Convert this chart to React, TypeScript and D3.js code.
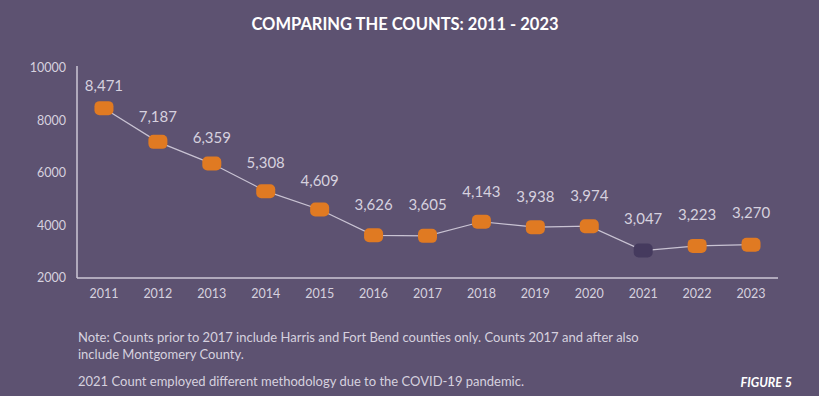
import * as d3 from "d3";
import { useEffect, useRef } from "react";

const years = ["2011", "2012", "2013", "2014", "2015", "2016", "2017", "2018", "2019", "2020", "2021", "2022", "2023"];
const counts = [8471, 7187, 6359, 5308, 4609, 3626, 3605, 4143, 3938, 3974, 3047, 3223, 3270];
const yTicks = [2000, 4000, 6000, 8000, 10000];
const specialYear = "2021";

const title = "COMPARING THE COUNTS: 2011 - 2023";
const noteLines = [
  "Note: Counts prior to 2017 include Harris and Fort Bend counties only. Counts 2017 and after also",
  "include Montgomery County.",
];
const methodNote = "2021 Count employed different methodology due to the COVID-19 pandemic.";
const figureLabel = "FIGURE 5";

export default function App() {
  const svgRef = useRef<SVGSVGElement>(null);

  useEffect(() => {
    if (!svgRef.current) return;
    document.body.style.margin = "0";

    const W = 819;
    const H = 396;
    const svg = d3.select(svgRef.current);
    svg.selectAll("*").remove();

    const bg = "#5d5271";
    const axisColor = "#cdc7d6";
    const textColor = "#d6d1df";
    const font = "Lato, 'Open Sans', sans-serif";

    svg.append("rect").attr("width", W).attr("height", H).attr("fill", bg);

    // title
    svg
      .append("text")
      .attr("x", 405)
      .attr("y", 30)
      .attr("text-anchor", "middle")
      .attr("fill", "#ffffff")
      .attr("font-family", font)
      .attr("font-weight", 700)
      .attr("font-size", "16.5px")
      .text(title);

    const x0 = 77;
    const x1 = 778;
    const yTop = 68;
    const yBottom = 278;

    const xScale = d3.scalePoint<string>().domain(years).range([x0, x1]).padding(0.5);
    const yScale = d3.scaleLinear().domain([2000, 10000]).range([yBottom, yTop]);
    // value labels sit a little above the markers, on a slightly flatter scale
    const labelScale = d3.scaleLinear().domain([2000, 10000]).range([244.5, 48.5]);

    // axes
    svg
      .append("line")
      .attr("x1", x0)
      .attr("x2", x0)
      .attr("y1", yTop - 2)
      .attr("y2", yBottom)
      .attr("stroke", axisColor)
      .attr("stroke-width", 1.5);
    svg
      .append("line")
      .attr("x1", x0)
      .attr("x2", x1)
      .attr("y1", yBottom)
      .attr("y2", yBottom)
      .attr("stroke", axisColor)
      .attr("stroke-width", 1.5);

    svg
      .append("g")
      .selectAll("text")
      .data(yTicks)
      .enter()
      .append("text")
      .attr("x", 66)
      .attr("y", (d) => yScale(d) + 4)
      .attr("text-anchor", "end")
      .attr("fill", textColor)
      .attr("font-family", font)
      .attr("font-size", "12.5px")
      .text((d) => d.toString());

    svg
      .append("g")
      .selectAll("text")
      .data(years)
      .enter()
      .append("text")
      .attr("x", (d) => xScale(d) as number)
      .attr("y", 298)
      .attr("text-anchor", "middle")
      .attr("fill", textColor)
      .attr("font-family", font)
      .attr("font-size", "12.5px")
      .text((d) => d);

    const data = years.map((y, i) => ({ year: y, value: counts[i] }));

    const line = d3
      .line<{ year: string; value: number }>()
      .x((d) => xScale(d.year) as number)
      .y((d) => yScale(d.value));

    svg
      .append("path")
      .datum(data)
      .attr("d", line)
      .attr("fill", "none")
      .attr("stroke", "#c9c3d3")
      .attr("stroke-width", 1.2);

    const mw = 19;
    const mh = 14;
    svg
      .append("g")
      .selectAll("rect")
      .data(data)
      .enter()
      .append("rect")
      .attr("x", (d) => (xScale(d.year) as number) - mw / 2)
      .attr("y", (d) => yScale(d.value) - mh / 2)
      .attr("width", mw)
      .attr("height", mh)
      .attr("rx", 5)
      .attr("fill", (d) => (d.year === specialYear ? "#453a5e" : "#e07a22"));

    svg
      .append("g")
      .selectAll("text")
      .data(data)
      .enter()
      .append("text")
      .attr("x", (d) => xScale(d.year) as number)
      .attr("y", (d) => labelScale(d.value) + 5)
      .attr("text-anchor", "middle")
      .attr("fill", textColor)
      .attr("font-family", font)
      .attr("font-size", "15px")
      .text((d) => d3.format(",")(d.value));

    // notes
    const notes = svg.append("g").attr("font-family", font).attr("font-size", "13px").attr("fill", textColor);
    noteLines.forEach((t, i) => {
      notes
        .append("text")
        .attr("x", 78)
        .attr("y", 342 + i * 17)
        .text(t);
    });
    notes.append("text").attr("x", 78).attr("y", 386).text(methodNote);

    svg
      .append("text")
      .attr("x", 792)
      .attr("y", 387)
      .attr("text-anchor", "end")
      .attr("fill", "#ffffff")
      .attr("font-family", font)
      .attr("font-style", "italic")
      .attr("font-weight", 700)
      .attr("font-size", "12.5px")
      .text(figureLabel);
  }, []);

  return (
    <div style={{ position: "absolute", left: 0, top: 0 }}>
      <svg ref={svgRef} width={819} height={396} style={{ display: "block" }} />
    </div>
  );
}
